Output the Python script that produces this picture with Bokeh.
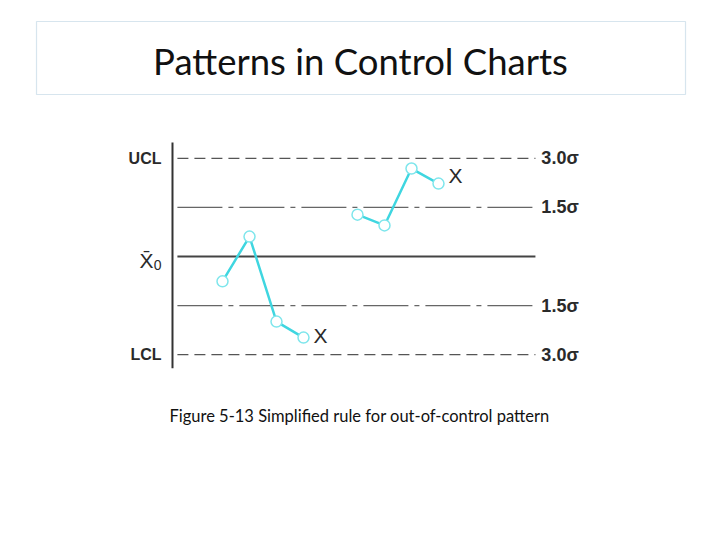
from bokeh.plotting import figure
from bokeh.models import Range1d, Label, BoxAnnotation
from bokeh.core.properties import value
from bokeh.embed import file_html
from bokeh.resources import INLINE

# control chart data (sample index, value in sigma units)
run1_x = [2, 3, 4, 5]
run1_y = [-0.76, 0.61, -1.99, -2.48]
run2_x = [7, 8, 9, 10]
run2_y = [1.28, 0.95, 2.69, 2.23]

limit_levels = [3.0, 1.5, 0.0, -1.5, -3.0]
right_labels = ["3.0\u03c3", "1.5\u03c3", "", "1.5\u03c3", "3.0\u03c3"]
line_start, line_end = 0.33, 13.59

# page layout: 27px per sample, 32.7px per sigma
p = figure(width=704, height=524, output_backend="svg", toolbar_location=None,
           x_range=Range1d(-168 / 27, 536 / 27),
           y_range=Range1d(-268 / 32.7, 256 / 32.7),
           min_border=0)
p.axis.visible = False
p.grid.grid_line_color = None
p.outline_line_color = None
p.background_fill_color = "white"

# title box
p.add_layout(BoxAnnotation(left=36, right=685, top=503, bottom=430,
                           left_units="screen", right_units="screen",
                           top_units="screen", bottom_units="screen",
                           fill_alpha=0, line_color="#7aaac8", line_width=1.2))
p.add_layout(Label(x=360, y=464, x_units="screen", y_units="screen",
                   text="Patterns in Control Charts", text_font="Lato",
                   text_font_size="36.5px", text_align="center",
                   text_baseline="middle", text_color="#111111"))
p.add_layout(Label(x=359, y=109, x_units="screen", y_units="screen",
                   text="Figure 5-13 Simplified rule for out-of-control pattern",
                   text_font="Lato", text_font_size="16.5px", text_align="center",
                   text_baseline="middle", text_color="#111111"))

# limit lines
styles = {3.0: ("11 6", 1.3, "#555555"), 1.5: ("45 6 5 6", 1.3, "#666666"),
          0.0: ("solid", 2, "#444444")}
for lv in limit_levels:
    dash, w, c = styles[abs(lv)]
    p.line([line_start, line_end], [lv, lv], line_dash=dash, line_width=w, line_color=c)

# vertical axis
p.line([0.148, 0.148], [3.49, -3.42], line_width=2, line_color="#333333")

# right labels
lab_x = [13.81] * len(limit_levels)
p.text(lab_x, limit_levels, text=right_labels, text_font=value("Liberation Sans"),
       text_font_size="18px", text_font_style="bold", text_baseline="middle",
       text_color="#2a2a2a")

# left labels
p.text([-0.26, -0.26], [3.0, -3.0], text=["UCL", "LCL"], text_font=value("Liberation Sans"),
       text_font_size="16px", text_font_style="bold", text_align="right",
       text_baseline="middle", text_color="#2a2a2a")
p.text([-0.26], [-0.12], text=["X\u0304"], text_font=value("Liberation Sans"),
       text_font_size="21px", text_align="right",
       text_baseline="middle", text_color="#2a2a2a", x_offset=-8)
p.text([-0.26], [-0.12], text=["0"], text_font=value("Liberation Sans"),
       text_font_size="14px", text_align="right",
       text_baseline="middle", text_color="#2a2a2a", y_offset=5)

# data runs
for xs, ys, dy in [(run1_x, run1_y, -2), (run2_x, run2_y, -8)]:
    p.line(xs, ys, line_color="#3fd6e0", line_width=2.5)
    p.scatter(xs, ys, size=11, fill_color="white", line_color="#7fe6ec", line_width=1.5)
    p.text([xs[-1]], [ys[-1]], text=["X"], text_font=value("Liberation Sans"),
           text_font_size="21px", text_baseline="middle", text_color="#2a2a2a",
           x_offset=10, y_offset=dy)

open("out.html", "w").write(file_html(p, INLINE))
